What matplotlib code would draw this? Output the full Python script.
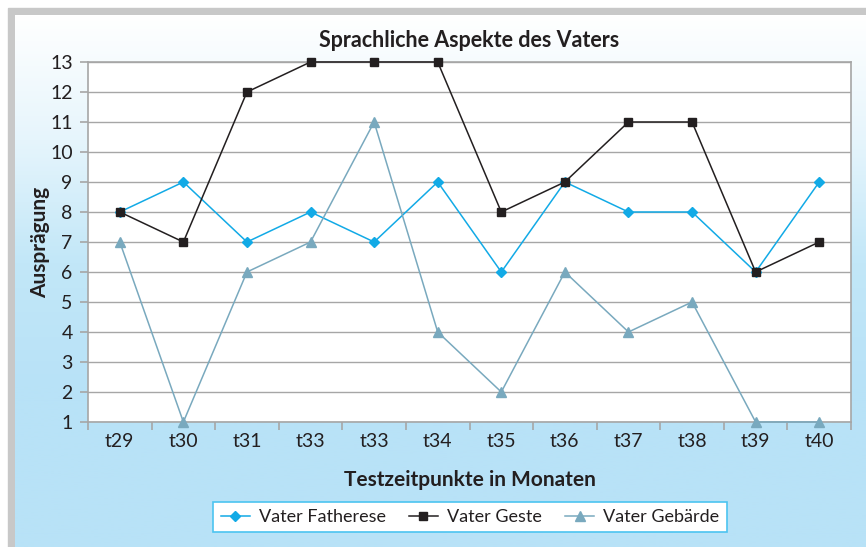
import numpy as np
import matplotlib
matplotlib.use('Agg')
import matplotlib.pyplot as plt
from matplotlib.colors import LinearSegmentedColormap

# Data
zeitpunkte = ['t29', 't30', 't31', 't33', 't33', 't34', 't35', 't36', 't37', 't38', 't39', 't40']
fatherese = [8, 9, 7, 8, 7, 9, 6, 9, 8, 8, 6, 9]
geste = [8, 7, 12, 13, 13, 13, 8, 9, 11, 11, 6, 7]
gebaerde = [7, 1, 6, 7, 11, 4, 2, 6, 4, 5, 1, 1]

plt.rcParams['font.family'] = ['Lato', 'DejaVu Sans']

W, H = 866, 547
fig = plt.figure(figsize=(W / 100, H / 100), dpi=100)

# background: grey frame top/left, gradient white -> light blue
bg = fig.add_axes([0, 0, 1, 1])
bg.axis('off')
bg.add_patch(plt.Rectangle((0, 0), W, H, color='white', zorder=0))
bg.add_patch(plt.Rectangle((8, 8), W, H, color='#c8c8c8', zorder=0.5))
cmap = LinearSegmentedColormap.from_list('bgc', ['#ffffff', '#e6f5fc', '#c2e7f8', '#b8e2f7'])
grad = np.linspace(0, 1, 256).reshape(-1, 1)
bg.imshow(grad, extent=(15, W, H, 15), cmap=cmap, aspect='auto', vmin=0, vmax=0.7, zorder=1)
bg.set_xlim(0, W)
bg.set_ylim(H, 0)

# plot area in pixel coords
x0, x1, y0, y1 = 88, 851, 62, 422
ax = fig.add_axes([x0 / W, 1 - y1 / H, (x1 - x0) / W, (y1 - y0) / H])
ax.set_facecolor('white')
x = np.arange(len(zeitpunkte))
ax.set_xlim(-0.5, len(zeitpunkte) - 0.5)
ax.set_ylim(1, 13)
ax.set_yticks(range(1, 14))
ax.yaxis.grid(True, color='#a6a6a6', lw=1.0)
ax.set_axisbelow(True)
for s in ax.spines.values():
    s.set_color('#a6a6a6')
    s.set_linewidth(1.2)

ax.plot(x, fatherese, color='#12aae6', lw=1.1, marker='D', ms=5.5, label='Vater Fatherese', clip_on=False, zorder=3)
ax.plot(x, geste, color='#231f20', lw=1.1, marker='s', ms=6, label='Vater Geste', clip_on=False, zorder=3)
ax.plot(x, gebaerde, color='#79a9be', lw=1.1, marker='^', ms=6.5, label='Vater Gebärde', clip_on=False, zorder=3)

ax.set_xticks(x)
ax.set_xticklabels(zeitpunkte, fontsize=14, color='#231f20')
ax.set_xticks(np.arange(-0.5, len(zeitpunkte)), minor=True)
ax.tick_params(axis='x', which='major', length=0, pad=8)
ax.tick_params(axis='x', which='minor', length=6, color='#a6a6a6', width=1.2)
ax.tick_params(axis='y', length=6, color='#a6a6a6', width=1.2, labelsize=14, labelcolor='#231f20', pad=5)

ax.set_title('Sprachliche Aspekte des Vaters', fontsize=15.5, fontweight='bold', color='#231f20', pad=11)
ax.set_xlabel('Testzeitpunkte in Monaten', fontsize=15, fontweight='bold', color='#231f20', labelpad=14)
ax.set_ylabel('Ausprägung', fontsize=15, fontweight='bold', color='#231f20', labelpad=0)

leg = fig.legend(loc='center', bbox_to_anchor=(470 / W, 1 - 517 / H), ncol=3, fontsize=13,
                 frameon=True, fancybox=False, edgecolor='#4cc4f0', framealpha=1,
                 handlelength=1.6, handletextpad=0.5, columnspacing=1.3, borderpad=0.4)
leg.get_frame().set_linewidth(1.2)
for t in leg.get_texts():
    t.set_color('#231f20')

fig.savefig('out.png', dpi=100)
